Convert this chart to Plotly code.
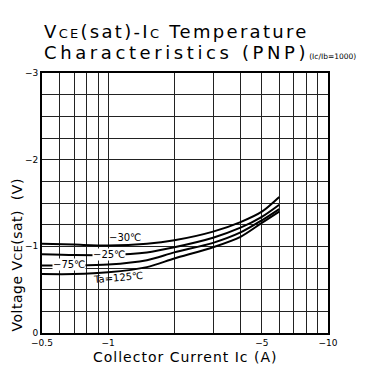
import plotly.graph_objects as go

# Data (Ic magnitude in A, VCE(sat) in V, PNP so negative)
ic_abs = [0.5, 0.7, 1.0, 1.5, 2.0, 3.0, 4.0, 5.0, 6.0]
v_m30 = [-1.03, -1.02, -1.01, -1.03, -1.07, -1.17, -1.28, -1.40, -1.57]
v_25 = [-0.91, -0.90, -0.90, -0.93, -0.99, -1.10, -1.215, -1.34, -1.48]
v_75 = [-0.78, -0.78, -0.79, -0.84, -0.93, -1.04, -1.16, -1.30, -1.43]
v_125 = [-0.68, -0.68, -0.70, -0.76, -0.86, -0.99, -1.11, -1.27, -1.40]

x_tickvals = [0.5, 0.6, 0.7, 0.8, 0.9, 1, 2, 3, 4, 5, 6, 7, 8, 9, 10]
x_ticktext = ["−0.5", "", "", "", "", "−1", "", "", "", "−5", "", "", "", "", "−10"]
y_tickvals = [i * -0.25 for i in range(13)]
y_ticktext = ["0" if v == 0 else ("−%d" % round(-v) if abs(v - round(v)) < 1e-9 else "") for v in y_tickvals]

series = [("−30℃", v_m30), ("25℃", v_25), ("75℃", v_75), ("Ta=125℃", v_125)]

fig = go.Figure()
for name, vals in series:
    fig.add_trace(go.Scatter(x=ic_abs, y=vals, mode="lines", name=name,
                             line=dict(color="black", width=2, shape="spline", smoothing=0.8),
                             showlegend=False, hoverinfo="skip"))

F = "DejaVu Sans"
lab_font = dict(family=F, size=10, color="black")
# curve labels
fig.add_annotation(x=0.0, y=-1.10, xref="x", yref="y", text="−30℃", showarrow=False,
                   font=lab_font, xanchor="left", yanchor="middle", borderpad=0)
fig.add_annotation(x=-0.0735, y=-0.91, xref="x", yref="y", text="−25℃", showarrow=False,
                   font=lab_font, xanchor="left", yanchor="middle", bgcolor="white", borderpad=0)
fig.add_annotation(x=-0.2555, y=-0.785, xref="x", yref="y", text="−75℃", showarrow=False,
                   font=lab_font, xanchor="left", yanchor="middle", bgcolor="white", borderpad=0)
fig.add_annotation(x=-0.0735, y=-0.645, xref="x", yref="y", text="Ta=125℃", showarrow=False,
                   font=lab_font, xanchor="left", yanchor="middle", textangle=-5, borderpad=0)

# title
title_font = dict(family=F, size=18, color="black")
fig.add_annotation(x=0.0, y=1.0, xref="paper", yref="paper", yshift=41.5,
                   text="<span style='letter-spacing:2.3px'>V<span style='font-size:13px'>CE</span>(sat)-I<span style='font-size:13px'>C</span> Temperature</span>",
                   showarrow=False, font=title_font, xanchor="left", yanchor="middle")
fig.add_annotation(x=0.0, y=1.0, xref="paper", yref="paper", yshift=20.5,
                   text="<span style='letter-spacing:3.6px'>Characteristics (PNP)</span><span style='font-size:7.5px'>(Ic/Ib=1000)</span>",
                   showarrow=False, font=title_font, xanchor="left", yanchor="middle")

# axis titles
fig.add_annotation(x=0.5, y=0.0, xref="paper", yref="paper", yshift=-24,
                   text="<span style='letter-spacing:1px'>Collector Current Ic (A)</span>",
                   showarrow=False, font=dict(family=F, size=14, color="black"),
                   xanchor="center", yanchor="middle")
fig.add_annotation(x=0.0, y=0.3, xref="paper", yref="paper", xshift=-25.5,
                   text="<span style='letter-spacing:0.5px'>Voltage V<span style='font-size:11px'>CE</span>(sat)  (V)</span>",
                   showarrow=False, font=dict(family=F, size=14, color="black"), textangle=-90,
                   xanchor="center", yanchor="middle")

fig.update_layout(
    width=366, height=370,
    margin=dict(l=34, r=46, t=65, b=45),
    paper_bgcolor="white", plot_bgcolor="white",
    font=dict(family=F, color="black"),
    xaxis=dict(type="log", range=[-0.30103, 1.0], tickvals=x_tickvals, ticktext=x_ticktext,
               showgrid=True, gridcolor="#222", gridwidth=1, ticks="", showline=True,
               linecolor="black", linewidth=2, mirror=True, zeroline=False, automargin=False,
               tickfont=dict(size=9, family=F)),
    yaxis=dict(range=[0, -3], tickvals=y_tickvals, ticktext=y_ticktext,
               showgrid=True, gridcolor="#222", gridwidth=1, ticks="", showline=True,
               linecolor="black", linewidth=2, mirror=True, zeroline=False, automargin=False,
               tickfont=dict(size=9, family=F)),
)

fig.write_html("out.html")
